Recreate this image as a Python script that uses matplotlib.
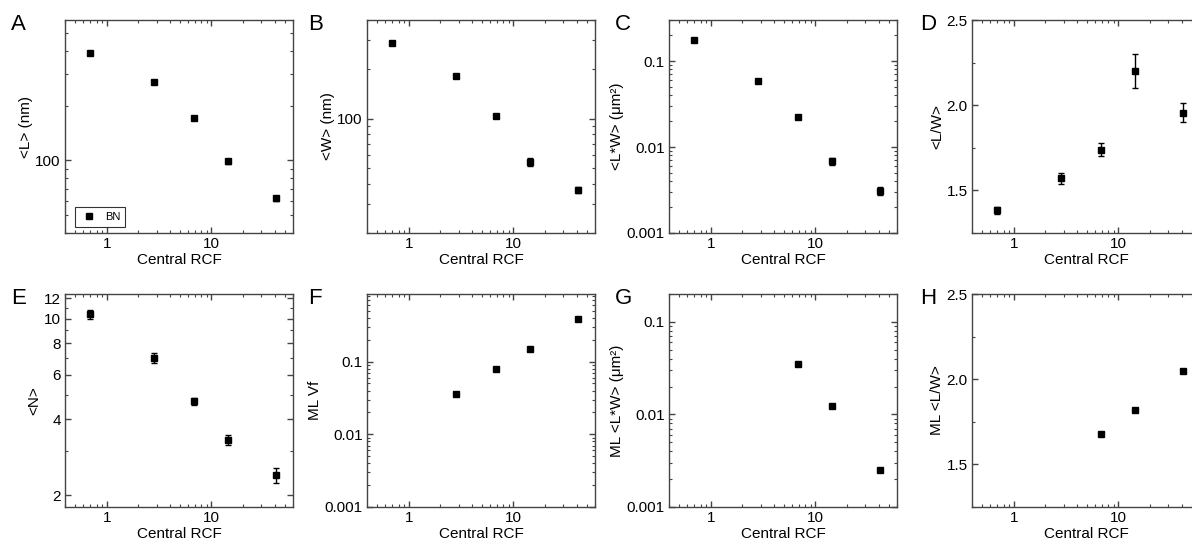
import matplotlib
matplotlib.use('Agg')
import matplotlib.pyplot as plt
from matplotlib.lines import Line2D
from matplotlib.ticker import FixedLocator, LogLocator, FuncFormatter, NullFormatter, AutoMinorLocator

plt.rcParams['font.family'] = ['Liberation Sans', 'DejaVu Sans']
plt.rcParams['font.size'] = 11

# данные
rcf = [0.7, 2.8, 6.8, 14.3, 41]
L_mean = [391, 268, 170, 99, 62]
L_err = [4, 4, 3, 3, 2]
W_mean = [288, 182, 104, 54.3, 36.6]
W_err = [3, 3, 2, 3, 1.5]
LW_area = [0.176, 0.058, 0.0222, 0.0068, 0.0031]
LW_area_err = [0.004, 0.0015, 0.0006, 0.0007, 0.0003]
aspect = [1.383, 1.57, 1.74, 2.20, 1.957]
aspect_err = [0.022, 0.03, 0.04, 0.1, 0.055]
N_layers = [10.4, 6.98, 4.71, 3.32, 2.40]
N_err = [0.45, 0.3, 0.15, 0.15, 0.17]
ml_rcf = [2.8, 6.8, 14.3, 41]
ml_vf = [0.036, 0.078, 0.149, 0.39]
ml_rcf2 = [6.8, 14.3, 41]
ml_area = [0.035, 0.0124, 0.0025]
ml_aspect = [1.68, 1.82, 2.05]

W, H = 1192, 543
fig = plt.figure(figsize=(W / 100, H / 100), dpi=100)

lefts = [65, 367, 669, 972]
tops = [20, 294]
aw, ah = 228, 213
spine_col = '#444444'


def make_ax(row, col):
    ax = fig.add_axes([lefts[col] / W, 1 - (tops[row] + ah) / H, aw / W, ah / H])
    for s in ax.spines.values():
        s.set_color(spine_col)
        s.set_linewidth(1.0)
    ax.set_xscale('log')
    ax.set_xlim(0.4, 60)
    ax.xaxis.set_major_locator(FixedLocator([1, 10]))
    ax.xaxis.set_major_formatter(FuncFormatter(lambda v, p: '%g' % v))
    ax.xaxis.set_minor_locator(LogLocator(base=10, subs=range(2, 10), numticks=20))
    ax.xaxis.set_minor_formatter(NullFormatter())
    ax.tick_params(which='both', direction='in', top=True, right=True, color=spine_col)
    ax.tick_params(which='major', length=4, width=1, pad=3)
    ax.tick_params(which='minor', length=2, width=0.8)
    ax.set_xlabel('Central RCF', labelpad=1)
    return ax


def log_y(ax, lo, hi, majors):
    ax.set_yscale('log')
    ax.set_ylim(lo, hi)
    ax.yaxis.set_major_locator(FixedLocator(majors))
    ax.yaxis.set_major_formatter(FuncFormatter(lambda v, p: '%g' % v))
    ax.yaxis.set_minor_locator(LogLocator(base=10, subs=range(2, 10), numticks=20))
    ax.yaxis.set_minor_formatter(NullFormatter())


def lin_y(ax):
    ax.set_ylim(1.25, 2.5)
    ax.yaxis.set_major_locator(FixedLocator([1.5, 2.0, 2.5]))
    ax.yaxis.set_major_formatter(FuncFormatter(lambda v, p: '%.1f' % v))
    ax.yaxis.set_minor_locator(AutoMinorLocator(2))


pt = dict(fmt='s', color='black', ms=5, capsize=2.5, elinewidth=1, capthick=1, lw=0)

# A
ax = make_ax(0, 0)
ax.errorbar(rcf, L_mean, yerr=L_err, **pt)
log_y(ax, 40, 590, [100])
ax.set_ylabel('<L> (nm)', labelpad=2)
proxy = Line2D([], [], ls='none', marker='s', color='black', ms=5)
leg = ax.legend([proxy], ['BN'], loc='lower left', fontsize=8, frameon=True, fancybox=False,
                edgecolor='black', handlelength=1.6, handletextpad=0.6, borderpad=0.45,
                borderaxespad=0, bbox_to_anchor=(0.045, 0.03))
leg.get_frame().set_linewidth(0.8)

# B
ax = make_ax(0, 1)
ax.errorbar(rcf, W_mean, yerr=W_err, **pt)
log_y(ax, 20, 400, [100])
ax.set_ylabel('<W> (nm)', labelpad=2)

# C
ax = make_ax(0, 2)
ax.errorbar(rcf, LW_area, yerr=LW_area_err, **pt)
log_y(ax, 0.001, 0.3, [0.001, 0.01, 0.1])
ax.set_ylabel('<L*W> (μm²)', labelpad=2)

# D
ax = make_ax(0, 3)
ax.errorbar(rcf, aspect, yerr=aspect_err, **pt)
lin_y(ax)
ax.set_ylabel('<L/W>', labelpad=2)

# E
ax = make_ax(1, 0)
ax.errorbar(rcf, N_layers, yerr=N_err, **pt)
ax.set_yscale('log')
ax.set_ylim(1.8, 12.5)
ax.yaxis.set_major_locator(FixedLocator([2, 4, 6, 8, 10, 12]))
ax.yaxis.set_major_formatter(FuncFormatter(lambda v, p: '%g' % v))
ax.yaxis.set_minor_locator(FixedLocator([3, 5, 7, 9, 11]))
ax.yaxis.set_minor_formatter(NullFormatter())
ax.set_ylabel('<N>', labelpad=2)

# F
ax = make_ax(1, 1)
ax.errorbar(ml_rcf, ml_vf, **pt)
log_y(ax, 0.001, 0.85, [0.001, 0.01, 0.1])
ax.set_ylabel('ML Vf', labelpad=2)

# G
ax = make_ax(1, 2)
ax.errorbar(ml_rcf2, ml_area, **pt)
log_y(ax, 0.001, 0.2, [0.001, 0.01, 0.1])
ax.set_ylabel('ML <L*W> (μm²)', labelpad=2)

# H
ax = make_ax(1, 3)
ax.errorbar(ml_rcf2, ml_aspect, **pt)
lin_y(ax)
ax.set_ylabel('ML <L/W>', labelpad=2)

# буквы панелей
letters = {'A': (11, 14), 'B': (308, 14), 'C': (615, 14), 'D': (920, 14),
           'E': (11, 288), 'F': (308, 288), 'G': (615, 288), 'H': (920, 288)}
for t, (px, py) in letters.items():
    fig.text(px / W, 1 - py / H, t, fontsize=16, ha='left', va='top')

fig.savefig('out.png', dpi=100)
